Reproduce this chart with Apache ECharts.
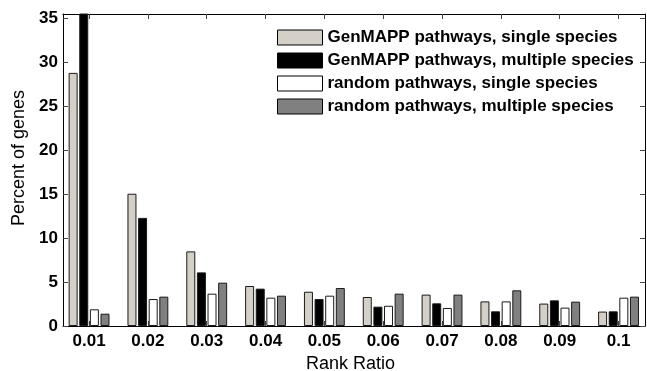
<!DOCTYPE html>
<html>
<head>
<meta charset="utf-8">
<script src="https://cdn.jsdelivr.net/npm/echarts@6/dist/echarts.min.js"></script>
<style>html,body{margin:0;padding:0;background:#fff}#c{width:647px;height:371px}</style>
</head>
<body>
<div id="c"></div>
<script>
var categories = ['0.01','0.02','0.03','0.04','0.05','0.06','0.07','0.08','0.09','0.1'];
var seriesNames = ['GenMAPP pathways, single species','GenMAPP pathways, multiple species','random pathways, single species','random pathways, multiple species'];
var genmappSingle   = [28.8, 15.05, 8.49, 4.55, 3.9, 3.3, 3.57, 2.8, 2.55, 1.64];
var genmappMultiple = [36.5, 12.3, 6.1, 4.25, 3.07, 2.2, 2.58, 1.67, 2.92, 1.67];
var randomSingle    = [1.9, 3.07, 3.68, 3.22, 3.45, 2.3, 2.05, 2.8, 2.09, 3.22];
var randomMultiple  = [1.4, 3.34, 4.93, 3.45, 4.32, 3.68, 3.57, 4.06, 2.77, 3.34];
var yTicks = [0,5,10,15,20,25,30,35];

var colors = ['#d4d0c8','#000000','#ffffff','#808080'];
var allValues = [genmappSingle, genmappMultiple, randomSingle, randomMultiple];
var positions = categories.map(function(_, i){ return i + 1; });

var chart = echarts.init(document.getElementById('c'));
var FONT = '"Liberation Sans", Arial, Helvetica, sans-serif';

var series = allValues.map(function(vals, s){
  return {
    name: seriesNames[s],
    type: 'bar',
    barWidth: 9,
    barGap: '18%',
    xAxisIndex: 0,
    yAxisIndex: 0,
    clip: true,
    itemStyle: { color: colors[s], borderColor: '#1a1a1a', borderWidth: 1 },
    data: vals.map(function(v, i){ return [positions[i], v]; })
  };
});

chart.setOption({
  animation: false,
  textStyle: { fontFamily: FONT },
  grid: { left: 63, right: 2, top: 14, bottom: 45, show: false, containLabel: false, outerBoundsMode: 'none' },
  legend: {
    orient: 'vertical',
    left: 277,
    top: 29,
    padding: 0,
    itemWidth: 45,
    itemHeight: 15,
    itemGap: 6,
    icon: 'rect',
    data: seriesNames,
    itemStyle: { borderColor: '#000', borderWidth: 1 },
    textStyle: { fontFamily: FONT, fontSize: 17, fontWeight: 'bold', color: '#000', lineHeight: 15 }
  },
  xAxis: [{
    type: 'value',
    position: 'bottom',
    min: 0.557,
    max: 10.45,
    splitLine: { show: false },
    axisLine: { show: true, onZero: false, lineStyle: { color: '#000', width: 1 } },
    axisTick: { show: true, inside: true, length: 5, customValues: positions, lineStyle: { color: '#444' } },
    axisLabel: {
      show: true, margin: 7, customValues: positions,
      fontFamily: FONT, fontSize: 17, fontWeight: 'bold', color: '#000',
      formatter: function(v){ return categories[Math.round(v) - 1] || ''; }
    },
    name: 'Rank Ratio',
    nameLocation: 'middle',
    nameGap: 23,
    nameTextStyle: { fontFamily: FONT, fontSize: 18, color: '#000', padding: [0, 7, 0, 0] }
  }, {
    type: 'value',
    position: 'top',
    min: 0.557,
    max: 10.45,
    splitLine: { show: false },
    axisLine: { show: true, onZero: false, lineStyle: { color: '#000', width: 1 } },
    axisTick: { show: true, inside: true, length: 5, customValues: positions, lineStyle: { color: '#444' } },
    axisLabel: { show: false }
  }],
  yAxis: [{
    type: 'value',
    position: 'left',
    min: 0,
    max: 35.5,
    interval: 5,
    splitLine: { show: false },
    axisLine: { show: true, onZero: false, lineStyle: { color: '#000', width: 1 } },
    axisTick: { show: true, inside: true, length: 5, customValues: yTicks, lineStyle: { color: '#444' } },
    axisLabel: { show: true, margin: 5, customValues: yTicks, fontFamily: FONT, fontSize: 17, fontWeight: 'bold', color: '#000' },
    name: 'Percent of genes',
    nameLocation: 'middle',
    nameGap: 34,
    nameTextStyle: { fontFamily: FONT, fontSize: 18, color: '#000', padding: [0, 0, 0, 24] }
  }, {
    type: 'value',
    position: 'right',
    min: 0,
    max: 35.5,
    interval: 5,
    splitLine: { show: false },
    axisLine: { show: true, onZero: false, lineStyle: { color: '#000', width: 1 } },
    axisTick: { show: true, inside: true, length: 5, customValues: yTicks, lineStyle: { color: '#444' } },
    axisLabel: { show: false }
  }],
  series: series
});
</script>
</body>
</html>
